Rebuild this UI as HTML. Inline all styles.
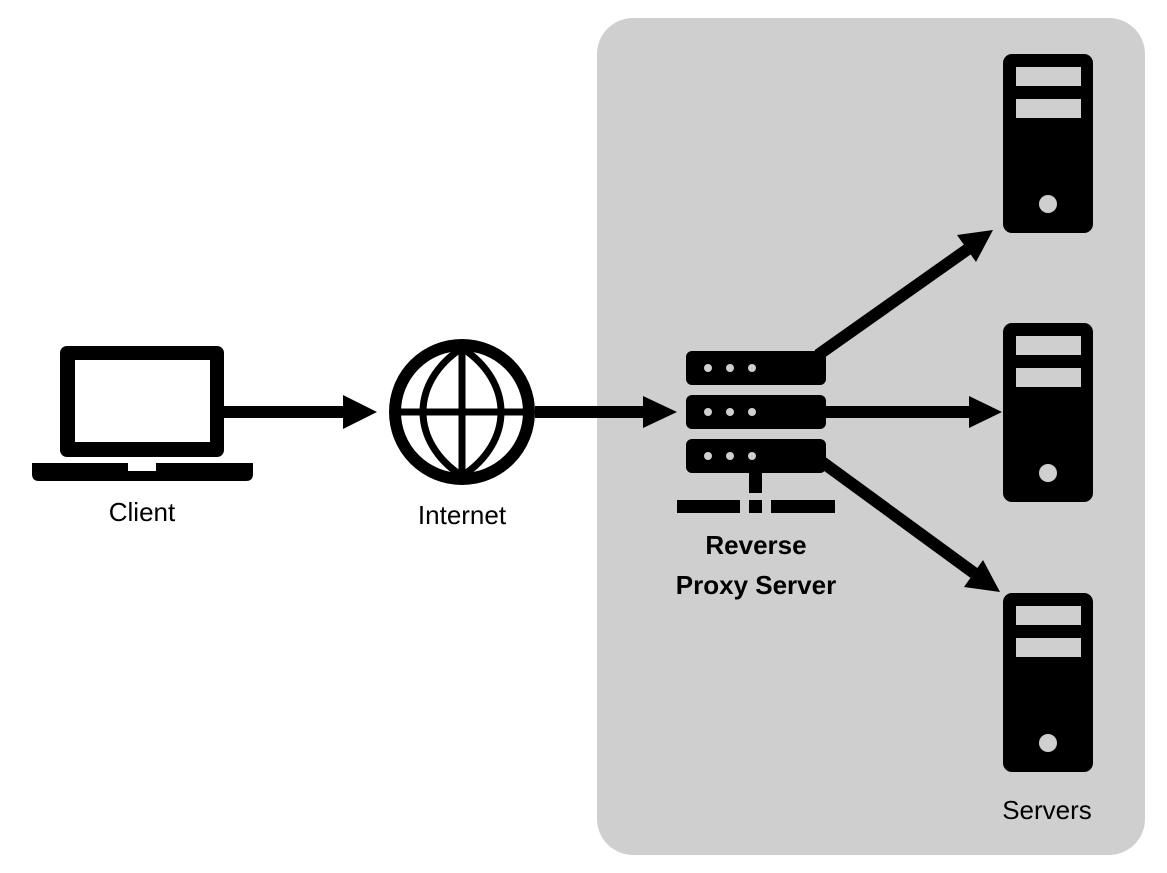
<!DOCTYPE html>
<html><head><meta charset="utf-8"><style>
html,body{margin:0;padding:0;background:#fff;width:1167px;height:873px;overflow:hidden}
</style></head><body>
<svg width="1167" height="873" viewBox="0 0 1167 873" xmlns="http://www.w3.org/2000/svg">
<rect x="597" y="18" width="548" height="837" rx="36" fill="#d0cfd0"/>
<!-- laptop -->
<rect x="60" y="346" width="164" height="111" rx="7" fill="#000"/>
<rect x="75" y="360" width="135" height="82" fill="#fff"/>
<path d="M32,463 H128 V471 H156 V463 H253 V474 Q253,481 246,481 H39 Q32,481 32,474 Z" fill="#000"/>
<!-- arrow client->internet -->
<line x1="224" y1="412" x2="346" y2="412" stroke="#000" stroke-width="12"/>
<polygon points="343,395 377,412 343,429" fill="#000"/>
<!-- globe -->
<circle cx="462" cy="412" r="67" fill="none" stroke="#000" stroke-width="12"/>
<path d="M462,348 C410,382 410,442 462,476 C514,442 514,382 462,348 Z" fill="none" stroke="#000" stroke-width="7" stroke-linejoin="round"/>
<line x1="462" y1="346" x2="462" y2="478" stroke="#000" stroke-width="7"/>
<line x1="396" y1="412" x2="528" y2="412" stroke="#000" stroke-width="7"/>
<line x1="535" y1="412" x2="646" y2="412" stroke="#000" stroke-width="12"/>
<polygon points="643,396 677,412 643,428" fill="#000"/>
<!-- proxy -->
<g fill="#000">
<rect x="686" y="351" width="140" height="34" rx="6"/>
<rect x="686" y="395" width="140" height="34" rx="6"/>
<rect x="686" y="439" width="140" height="34" rx="6"/>
<rect x="749" y="473" width="13" height="20"/>
<rect x="677" y="500" width="63" height="13"/>
<rect x="749" y="500" width="13" height="13"/>
<rect x="771" y="500" width="64" height="13"/>
</g>
<g fill="#d0cfd0">
<circle cx="708" cy="368" r="4"/><circle cx="730" cy="368" r="4"/><circle cx="752" cy="368" r="4"/>
<circle cx="708" cy="412" r="4"/><circle cx="730" cy="412" r="4"/><circle cx="752" cy="412" r="4"/>
<circle cx="708" cy="456" r="4"/><circle cx="730" cy="456" r="4"/><circle cx="752" cy="456" r="4"/>
</g>
<!-- fan-out arrows -->
<line x1="818" y1="355" x2="968" y2="249" stroke="#000" stroke-width="12"/>
<polygon points="993,230 976,262 957,235" fill="#000"/>
<line x1="826" y1="412" x2="972" y2="412" stroke="#000" stroke-width="12"/>
<polygon points="969,396 1002,412 969,428" fill="#000"/>
<line x1="818" y1="459" x2="974" y2="573" stroke="#000" stroke-width="12"/>
<polygon points="1000,592 964,587 983,560" fill="#000"/>
<!-- towers -->
<g>
<rect x="1003" y="54" width="90" height="179" rx="9" fill="#000"/>
<rect x="1016" y="67" width="65" height="19" fill="#d0cfd0"/>
<rect x="1016" y="99" width="65" height="19" fill="#d0cfd0"/>
<circle cx="1048" cy="204" r="9" fill="#d0cfd0"/>
</g>
<g transform="translate(0,269)">
<rect x="1003" y="54" width="90" height="179" rx="9" fill="#000"/>
<rect x="1016" y="67" width="65" height="19" fill="#d0cfd0"/>
<rect x="1016" y="99" width="65" height="19" fill="#d0cfd0"/>
<circle cx="1048" cy="204" r="9" fill="#d0cfd0"/>
</g>
<g transform="translate(0,539)">
<rect x="1003" y="54" width="90" height="179" rx="9" fill="#000"/>
<rect x="1016" y="67" width="65" height="19" fill="#d0cfd0"/>
<rect x="1016" y="99" width="65" height="19" fill="#d0cfd0"/>
<circle cx="1048" cy="204" r="9" fill="#d0cfd0"/>
</g>
<g font-family="'Liberation Sans', 'DejaVu Sans', sans-serif" font-size="26" text-anchor="middle" fill="#000">
<text x="142" y="521">Client</text>
<text x="462" y="524">Internet</text>
<text x="756" y="554" font-weight="bold">Reverse</text>
<text x="756" y="594" font-weight="bold">Proxy Server</text>
<text x="1047" y="819">Servers</text>
</g>
</svg>
</body></html>
